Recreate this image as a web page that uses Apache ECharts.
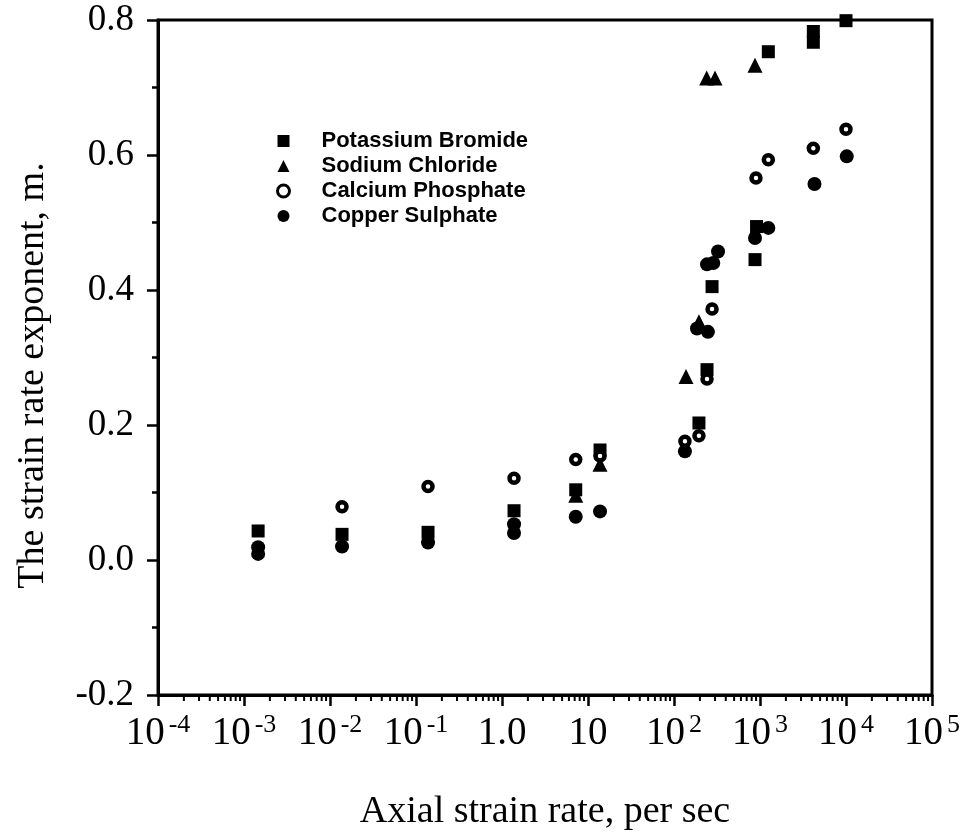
<!DOCTYPE html>
<html>
<head>
<meta charset="utf-8">
<script src="https://cdn.jsdelivr.net/npm/echarts@6/dist/echarts.min.js"></script>
<style>
  html, body { margin: 0; padding: 0; background: #fff; }
  #chart { width: 965px; height: 836px; }
</style>
</head>
<body>
<div id="chart"></div>
<script>
// axial strain rate (per sec), strain rate exponent m
const potassiumBromide = [
  [1.46e-3, 0.043], [1.38e-2, 0.038], [0.138, 0.041], [1.38, 0.073], [7.2, 0.104],
  [13.8, 0.163], [195, 0.203], [242, 0.282], [277, 0.405], [875, 0.445],
  [912, 0.494], [1250, 0.753], [4170, 0.783], [4170, 0.767], [1.0e4, 0.799]
];
const sodiumChloride = [
  [7.2, 0.096], [13.8, 0.142], [138, 0.272], [195, 0.353], [240, 0.714],
  [300, 0.714], [875, 0.733]
];
const calciumPhosphate = [
  [1.38e-2, 0.079], [0.138, 0.109], [1.38, 0.121], [7.2, 0.149], [13.8, 0.154],
  [134, 0.176], [195, 0.184], [242, 0.268], [277, 0.372], [898, 0.566],
  [1250, 0.593], [4170, 0.610], [1.0e4, 0.638]
];
const copperSulphate = [
  [1.46e-3, 0.019], [1.46e-3, 0.009], [1.38e-2, 0.020], [0.138, 0.026], [1.38, 0.053],
  [1.38, 0.040], [7.2, 0.064], [13.8, 0.072], [134, 0.161], [185, 0.343],
  [248, 0.338], [242, 0.438], [286, 0.440], [325, 0.457], [875, 0.477],
  [1250, 0.492], [4300, 0.557], [1.02e4, 0.598]
];

const seriesNames = ['Potassium Bromide', 'Sodium Chloride', 'Calcium Phosphate', 'Copper Sulphate'];
const xMin = 1e-4, xMax = 1e5;
const yMin = -0.2, yMax = 0.8, yStep = 0.2;

// minor ticks of the log axis (2..9 in each decade)
const xMinorTicks = [];
for (let e = -4; e < 5; e++) {
  for (let k = 2; k <= 9; k++) xMinorTicks.push([k * Math.pow(10, e), yMin]);
}

const serif = 'Liberation Serif';
const black = '#000';

const chart = echarts.init(document.getElementById('chart'));

const option = {
  backgroundColor: '#fff',
  animation: false,
  grid: {
    left: 158, right: 33, top: 20, bottom: 140,
    show: true, borderColor: black, borderWidth: 3
  },
  legend: {
    data: [
      { name: seriesNames[0] },
      { name: seriesNames[1] },
      { name: seriesNames[2], itemStyle: { borderWidth: 3 } },
      { name: seriesNames[3] }
    ],
    orient: 'vertical',
    left: 271, top: 124,
    itemWidth: 12, itemHeight: 12, itemGap: 1,
    textStyle: {
      fontFamily: 'Liberation Sans', fontWeight: 'bold', fontSize: 22,
      color: black, lineHeight: 24, padding: [0, 0, 0, 27]
    }
  },
  xAxis: {
    type: 'log', logBase: 10, min: xMin, max: xMax, splitNumber: 9,
    name: 'Axial strain rate, per sec',
    nameLocation: 'middle', nameGap: 98,
    nameTextStyle: { fontFamily: serif, fontSize: 38, color: black },
    axisLine: { onZero: false, lineStyle: { color: black, width: 3 } },
    axisTick: { show: true, length: 11, lineStyle: { color: black, width: 2.5 } },
    splitLine: { show: false },
    axisLabel: {
      margin: 17, showMinLabel: true, showMaxLabel: true, hideOverlap: false,
      formatter: function (v) {
        const e = Math.round(Math.log10(v));
        if (e === 0) return '{b|1.0}';
        if (e === 1) return '{b|10}';
        return '{b|10}{s|' + e + '}';
      },
      rich: {
        b: { fontFamily: serif, fontSize: 39, color: black, lineHeight: 44 },
        s: { fontFamily: serif, fontSize: 26, color: black, lineHeight: 14, verticalAlign: 'top', padding: [0, 0, 0, 4] }
      }
    }
  },
  yAxis: {
    type: 'value', min: yMin, max: yMax, interval: yStep,
    name: 'The strain rate exponent, m.',
    nameLocation: 'middle', nameGap: 106,
    nameTextStyle: { fontFamily: serif, fontSize: 38, color: black, padding: [0, 36, 0, 0] },
    axisLine: { show: true, lineStyle: { color: black, width: 3 } },
    axisTick: { show: true, length: 11, lineStyle: { color: black, width: 2.5 } },
    minorTick: { show: true, splitNumber: 2, length: 6, lineStyle: { color: black, width: 2.5 } },
    splitLine: { show: false },
    axisLabel: {
      margin: 24, fontFamily: serif, fontSize: 37, color: black,
      formatter: function (v) { return v.toFixed(1); }
    }
  },
  series: [
    {
      name: 'minor ticks', type: 'custom', data: xMinorTicks, clip: false, silent: true,
      renderItem: function (params, api) {
        const p = api.coord([api.value(0), api.value(1)]);
        return {
          type: 'line',
          shape: { x1: p[0], y1: p[1], x2: p[0], y2: p[1] + 6 },
          style: { stroke: black, lineWidth: 2 }
        };
      }
    },
    {
      name: seriesNames[1], type: 'scatter', data: sodiumChloride,
      symbol: 'triangle', symbolSize: 15, itemStyle: { color: black, opacity: 1 }
    },
    {
      name: seriesNames[0], type: 'scatter', data: potassiumBromide,
      symbol: 'rect', symbolSize: 13, itemStyle: { color: black, opacity: 1 }
    },
    {
      name: seriesNames[3], type: 'scatter', data: copperSulphate,
      symbol: 'circle', symbolSize: 14, itemStyle: { color: black, opacity: 1 }
    },
    {
      name: seriesNames[2], type: 'scatter', data: calciumPhosphate,
      symbol: 'circle', symbolSize: 9,
      itemStyle: { color: '#fff', borderColor: black, borderWidth: 4.5, opacity: 1 }
    }
  ]
};

chart.setOption(option);
</script>
</body>
</html>
